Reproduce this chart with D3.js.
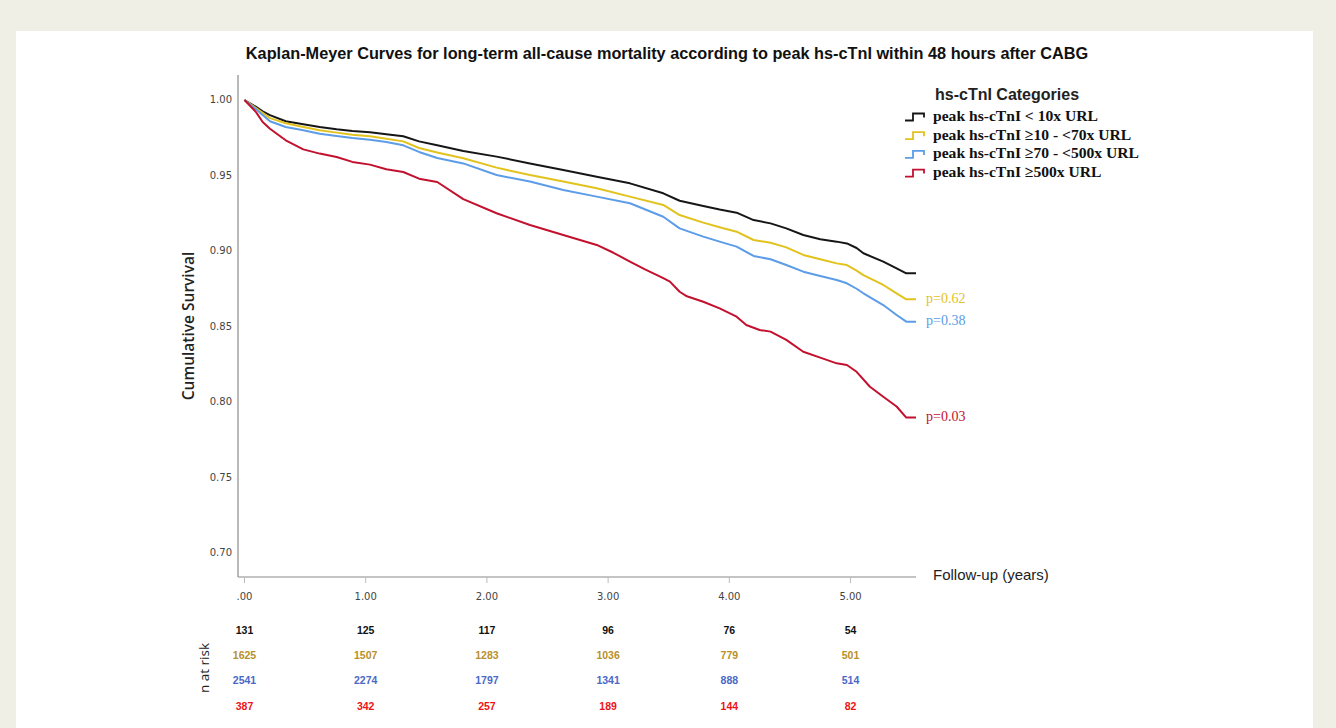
<!DOCTYPE html>
<html>
<head>
<meta charset="utf-8">
<script src="https://cdn.jsdelivr.net/npm/d3@7/dist/d3.min.js"></script>
<style>
  html, body { margin: 0; padding: 0; background: #efefe6; }
  svg { display: block; }
</style>
</head>
<body>
<svg id="chart" width="1336" height="728"></svg>
<script>
// Follow-up times (years) at which each survival estimate is recorded
const timesBlack  = [0, 0.095, 0.15, 0.21, 0.34, 0.485, 0.62, 0.76, 0.89, 1.035, 1.17, 1.31, 1.44, 1.59, 1.805, 2.08, 2.355, 2.63, 2.906, 3.18, 3.455, 3.59, 3.785, 3.92, 4.06, 4.2, 4.34, 4.47, 4.61, 4.75, 4.886, 4.97, 5.05, 5.106, 5.27, 5.38, 5.46, 5.54];
const survBlack   = [1, 0.9954, 0.9925, 0.990, 0.9859, 0.984, 0.9821, 0.9806, 0.9795, 0.9786, 0.9773, 0.976, 0.9726, 0.970, 0.9662, 0.9625, 0.958, 0.9536, 0.9492, 0.9448, 0.9382, 0.9333, 0.9298, 0.9275, 0.9254, 0.9205, 0.9183, 0.915, 0.9106, 0.9078, 0.9062, 0.905, 0.902, 0.8985, 0.893, 0.8885, 0.8852, 0.8852];

const timesYellow = [0, 0.095, 0.15, 0.21, 0.34, 0.485, 0.62, 0.76, 0.89, 1.035, 1.17, 1.31, 1.44, 1.59, 1.805, 2.08, 2.355, 2.63, 2.906, 3.18, 3.455, 3.59, 3.785, 3.92, 4.06, 4.2, 4.34, 4.47, 4.61, 4.75, 4.886, 4.97, 5.05, 5.106, 5.27, 5.38, 5.46, 5.54];
const survYellow  = [1, 0.9947, 0.9915, 0.988, 0.9846, 0.9821, 0.980, 0.9784, 0.977, 0.976, 0.9744, 0.9726, 0.9682, 0.9652, 0.9614, 0.9552, 0.9503, 0.946, 0.9415, 0.936, 0.9305, 0.9238, 0.9188, 0.9157, 0.9128, 0.9073, 0.9055, 0.9024, 0.8974, 0.8945, 0.8918, 0.8907, 0.887, 0.884, 0.8775, 0.872, 0.868, 0.868];

const timesBlue   = [0, 0.095, 0.15, 0.21, 0.34, 0.485, 0.62, 0.76, 0.89, 1.035, 1.17, 1.31, 1.44, 1.59, 1.805, 2.08, 2.355, 2.63, 2.906, 3.18, 3.455, 3.59, 3.785, 3.92, 4.06, 4.2, 4.34, 4.47, 4.61, 4.75, 4.886, 4.97, 5.05, 5.106, 5.27, 5.38, 5.46, 5.54];
const survBlue    = [1, 0.9938, 0.990, 0.9859, 0.9821, 0.980, 0.9777, 0.9762, 0.9748, 0.9737, 0.9722, 0.970, 0.9656, 0.9616, 0.958, 0.9503, 0.946, 0.9404, 0.936, 0.9316, 0.9227, 0.915, 0.9095, 0.9062, 0.9029, 0.8967, 0.8945, 0.8907, 0.8863, 0.8834, 0.8808, 0.8786, 0.875, 0.872, 0.8642, 0.8576, 0.8532, 0.8532];

const timesRed    = [0, 0.095, 0.15, 0.21, 0.34, 0.485, 0.62, 0.76, 0.89, 1.035, 1.17, 1.31, 1.44, 1.59, 1.805, 2.08, 2.355, 2.63, 2.906, 3.04, 3.18, 3.3, 3.455, 3.51, 3.59, 3.65, 3.785, 3.92, 4.06, 4.14, 4.25, 4.34, 4.47, 4.61, 4.75, 4.886, 4.97, 5.05, 5.16, 5.27, 5.38, 5.46, 5.54];
const survRed     = [1, 0.992, 0.9854, 0.981, 0.9733, 0.9673, 0.9645, 0.9623, 0.959, 0.9572, 0.9541, 0.9523, 0.9479, 0.9457, 0.9344, 0.925, 0.9172, 0.9106, 0.904, 0.899, 0.893, 0.888, 0.882, 0.8797, 0.873, 0.870, 0.8664, 0.862, 0.8565, 0.851, 0.8477, 0.8466, 0.8411, 0.8333, 0.8294, 0.8256, 0.8245, 0.820, 0.8101, 0.8035, 0.797, 0.7897, 0.7897];

// Group names, colours and log-rank p-values
const groupLabels = ["peak hs-cTnI < 10x URL", "peak hs-cTnI \u226510 - <70x URL", "peak hs-cTnI \u226570 - <500x URL", "peak hs-cTnI \u2265500x URL"];
const lineColors  = ["#161616", "#e2c21c", "#5c9ce8", "#c2112f"];
const pValues     = [null, "p=0.62", "p=0.38", "p=0.03"];

// Number at risk at each whole year
const riskYears   = [0, 1, 2, 3, 4, 5];
const riskBlack   = [131, 125, 117, 96, 76, 54];
const riskYellow  = [1625, 1507, 1283, 1036, 779, 501];
const riskBlue    = [2541, 2274, 1797, 1341, 888, 514];
const riskRed     = [387, 342, 257, 189, 144, 82];
const riskColors  = ["#111111", "#b8902c", "#4a68c8", "#ee1414"];

const xTicks = [0, 1, 2, 3, 4, 5];
const yTicks = [0.70, 0.75, 0.80, 0.85, 0.90, 0.95, 1.00];

const series = [
  {t: timesBlack,  s: survBlack},
  {t: timesYellow, s: survYellow},
  {t: timesBlue,   s: survBlue},
  {t: timesRed,    s: survRed}
];
const riskRows = [riskBlack, riskYellow, riskBlue, riskRed];

const svg = d3.select("#chart");

// white card on the beige page
svg.append("rect").attr("x", 16).attr("y", 31).attr("width", 1297).attr("height", 720).attr("fill", "#ffffff");

// plot frame in pixels
const plotLeft = 238, plotRight = 916, plotTop = 75, plotBottom = 577;

const x = d3.scaleLinear().domain([-0.0536, 5.54]).range([plotLeft, plotRight]);
const y = d3.scaleLinear().domain([0.70, 1.00]).range([553, 100]);

// title
svg.append("text")
  .attr("x", 667).attr("y", 55)
  .attr("text-anchor", "middle").attr("dominant-baseline", "middle")
  .attr("font-family", "Liberation Sans, sans-serif")
  .attr("font-weight", "bold").attr("font-size", 16.3).attr("fill", "#111")
  .text("Kaplan-Meyer Curves for long-term all-cause mortality according to peak hs-cTnI within 48 hours after CABG");

// axes lines
svg.append("line").attr("x1", plotLeft).attr("x2", plotLeft).attr("y1", plotTop).attr("y2", plotBottom)
  .attr("stroke", "#8a8a8a").attr("stroke-width", 1.2);
svg.append("line").attr("x1", plotLeft).attr("x2", plotRight).attr("y1", plotBottom).attr("y2", plotBottom)
  .attr("stroke", "#8a8a8a").attr("stroke-width", 1.2);

// y tick labels
svg.append("g").selectAll("text").data(yTicks).join("text")
  .attr("x", 232).attr("y", d => y(d))
  .attr("text-anchor", "end").attr("dominant-baseline", "middle")
  .attr("font-family", "DejaVu Sans, sans-serif").attr("font-size", 10).attr("fill", "#444")
  .text(d => d.toFixed(2));

// x ticks and labels
const xg = svg.append("g");
xg.selectAll("line").data(xTicks).join("line")
  .attr("x1", d => x(d)).attr("x2", d => x(d)).attr("y1", plotBottom).attr("y2", plotBottom + 6)
  .attr("stroke", "#bbbbbb").attr("stroke-width", 1);
xg.selectAll("text").data(xTicks).join("text")
  .attr("x", d => x(d)).attr("y", 597)
  .attr("text-anchor", "middle").attr("dominant-baseline", "middle")
  .attr("font-family", "DejaVu Sans, sans-serif").attr("font-size", 10).attr("fill", "#444")
  .text(d => d === 0 ? ".00" : d.toFixed(2));

// axis titles
svg.append("text")
  .attr("x", 933).attr("y", 576).attr("dominant-baseline", "middle")
  .attr("font-family", "Liberation Sans, sans-serif").attr("font-size", 15).attr("fill", "#222")
  .text("Follow-up (years)");
svg.append("text")
  .attr("transform", "translate(190,326) rotate(-90)")
  .attr("text-anchor", "middle").attr("dominant-baseline", "middle")
  .attr("font-family", "Open Sans, sans-serif").attr("font-weight", 600).attr("font-size", 15.5).attr("fill", "#222")
  .text("Cumulative Survival");

// survival curves
const line = d3.line()
  .x(d => x(d[0])).y(d => y(d[1]))
  .curve(d3.curveLinear);

series.forEach((sr, i) => {
  const pts = sr.t.map((t, k) => [t, sr.s[k]]);
  svg.append("path").datum(pts)
    .attr("d", line)
    .attr("fill", "none")
    .attr("stroke", lineColors[i])
    .attr("stroke-width", 2)
    .attr("stroke-linejoin", "round");
  if (pValues[i]) {
    svg.append("text")
      .attr("x", 926).attr("y", y(sr.s[sr.s.length - 1]))
      .attr("dominant-baseline", "middle")
      .attr("font-family", "Liberation Serif, serif").attr("font-size", 14)
      .attr("fill", lineColors[i])
      .text(pValues[i]);
  }
});

// legend
svg.append("text")
  .attr("x", 935).attr("y", 96).attr("dominant-baseline", "middle")
  .attr("font-family", "Liberation Sans, sans-serif").attr("font-weight", "bold").attr("font-size", 16).attr("fill", "#222")
  .text("hs-cTnI Categories");
const lg = svg.append("g");
groupLabels.forEach((lab, i) => {
  const cy = 117.5 + i * 18.7;
  lg.append("path")
    .attr("d", `M${905},${cy + 3} H${913} V${cy - 4} H${924} V${cy}`)
    .attr("fill", "none").attr("stroke", lineColors[i]).attr("stroke-width", 1.8);
  lg.append("text")
    .attr("x", 933).attr("y", cy).attr("dominant-baseline", "middle")
    .attr("font-family", "Liberation Serif, serif").attr("font-weight", "bold").attr("font-size", 15.6).attr("fill", "#111")
    .text(lab);
});

// number at risk table
svg.append("text")
  .attr("transform", "translate(205,668) rotate(-90)")
  .attr("text-anchor", "middle").attr("dominant-baseline", "middle")
  .attr("font-family", "Open Sans, sans-serif").attr("font-size", 13.5).attr("fill", "#222")
  .text("n at risk");
riskRows.forEach((row, r) => {
  svg.append("g").selectAll("text").data(riskYears).join("text")
    .attr("x", d => x(d)).attr("y", 631 + r * 25.3)
    .attr("text-anchor", "middle").attr("dominant-baseline", "middle")
    .attr("font-family", "Liberation Sans, sans-serif")
    .attr("font-weight", "bold").attr("font-size", 10.5).attr("fill", riskColors[r])
    .text((d, k) => row[k]);
});
</script>
</body>
</html>
